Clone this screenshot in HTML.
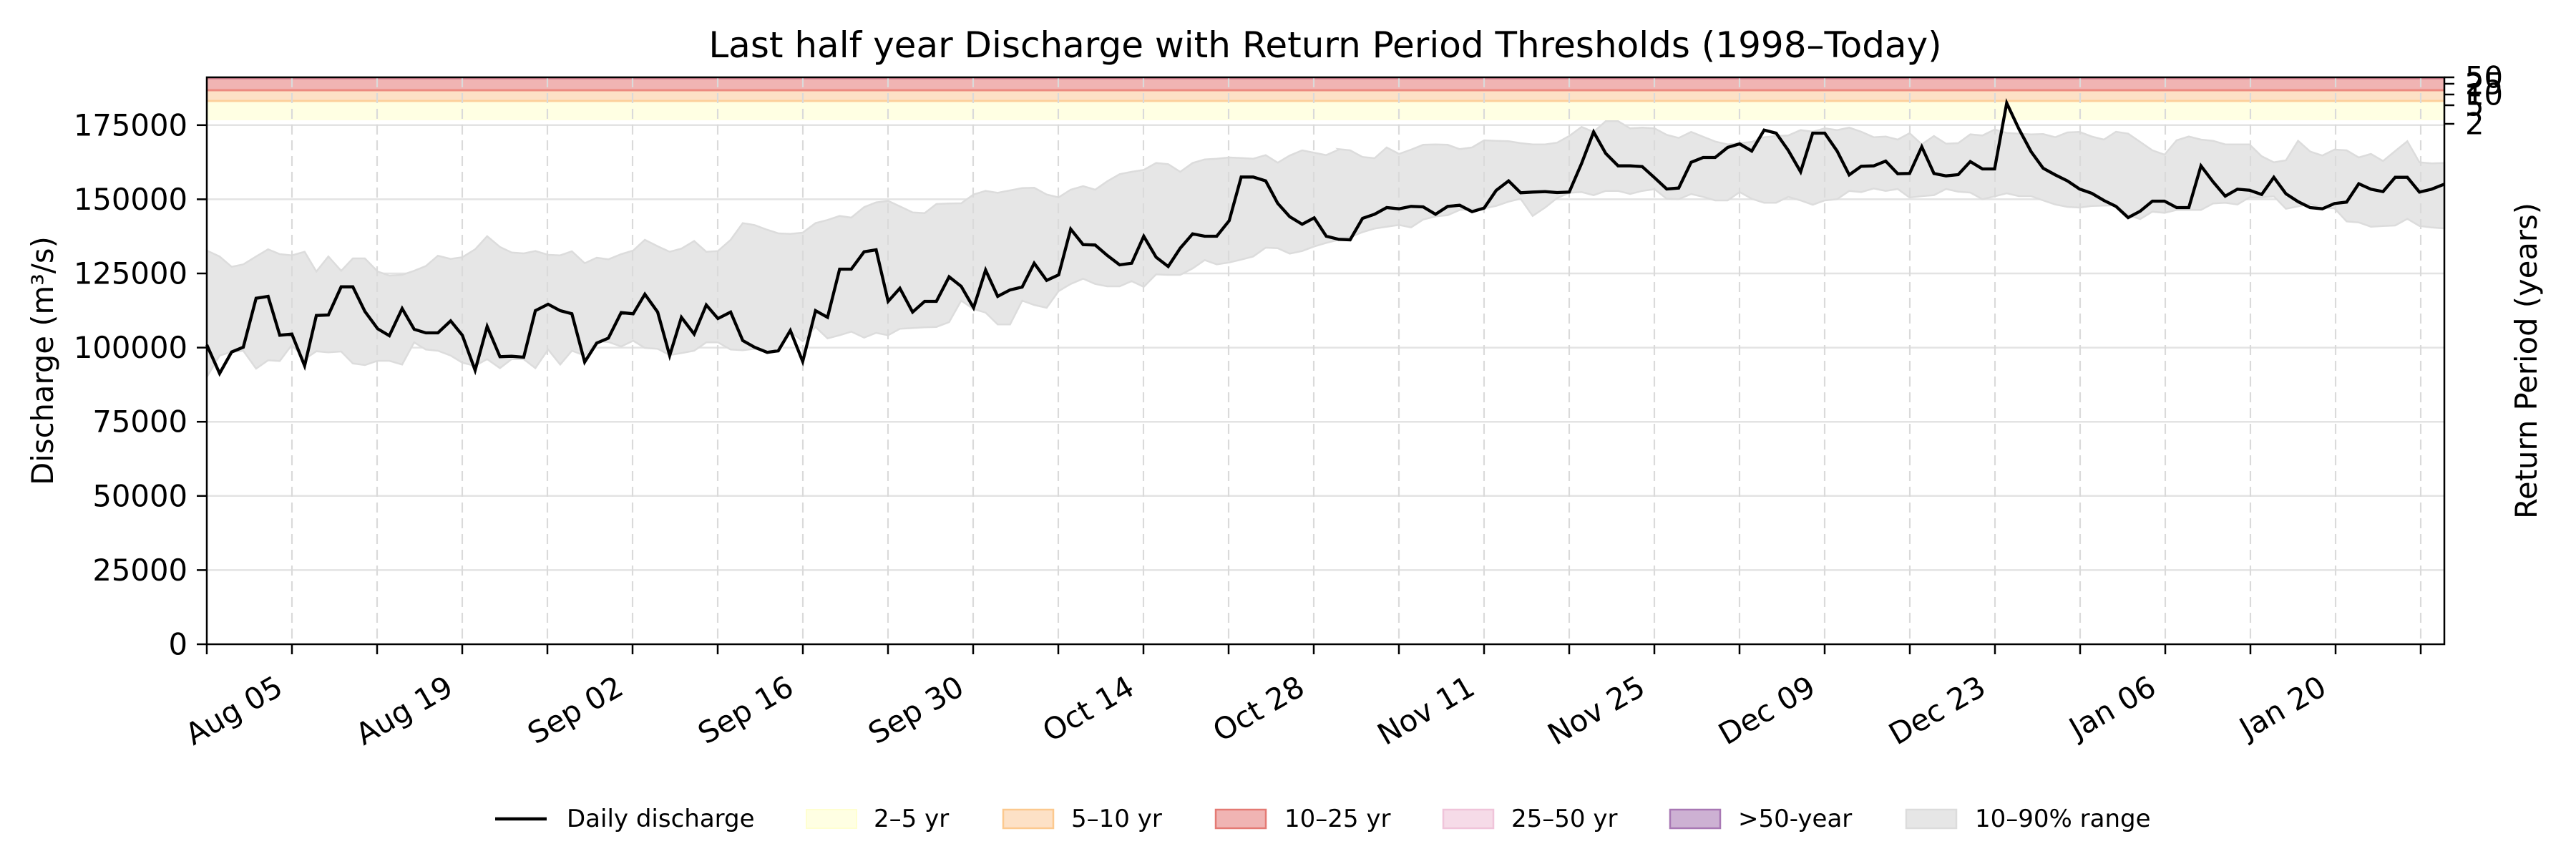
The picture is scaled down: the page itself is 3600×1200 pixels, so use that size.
<!DOCTYPE html>
<html><head><meta charset="utf-8">
<style>
html,body{margin:0;padding:0;background:#fff;}
svg{display:block;font-family:"DejaVu Sans","Liberation Sans",sans-serif;}
</style></head>
<body>
<svg id="s" width="3600" height="1200" viewBox="0 0 3600 1200" xmlns="http://www.w3.org/2000/svg">
<rect width="3600" height="1200" fill="#fff"/>
<g id="grid"></g>
<rect x="289" y="141" width="3127" height="27" fill="#ffffe3"/>
<rect x="289" y="126" width="3127" height="15" fill="#fde1c6"/>
<line x1="289" y1="141" x2="3416" y2="141" stroke="#fcd09c" stroke-width="3"/>
<rect x="289" y="111" width="3127" height="15" fill="#f0b4b3"/>
<line x1="289" y1="126" x2="3416" y2="126" stroke="#ec8a80" stroke-width="3"/>
<rect x="289" y="108" width="3127" height="3" fill="#e28a9a"/>
<path id="band" fill="#e6e6e6" stroke="#dcdcdc" stroke-width="2.5"/>
<g id="vgrid"></g>
<path id="line" fill="none" stroke="#000" stroke-width="4.3" stroke-linejoin="miter"/>
<rect x="289" y="108" width="3127" height="792" fill="none" stroke="#000" stroke-width="2.5"/>
<g id="ticks" font-size="41.7"></g>
<text x="1852" y="80" font-size="50" text-anchor="middle">Last half year Discharge with Return Period Thresholds (1998–Today)</text>
<text transform="translate(74,504) rotate(-90)" font-size="41.7" text-anchor="middle">Discharge (m³/s)</text>
<text transform="translate(3545,504) rotate(-90)" font-size="41.7" text-anchor="middle">Return Period (years)</text>
<g stroke="#000" stroke-width="2.5">
<line x1="3416" y1="108" x2="3430" y2="108"/>
<line x1="3416" y1="117" x2="3430" y2="117"/>
<line x1="3416" y1="132" x2="3430" y2="132"/>
<line x1="3416" y1="147" x2="3430" y2="147"/>
<line x1="3416" y1="173" x2="3430" y2="173"/>
</g>
<g font-size="41.7" dominant-baseline="central">
<text x="3445" y="108">50</text>
<text x="3445" y="117">25</text>
<text x="3445" y="132">10</text>
<text x="3445" y="147">5</text>
<text x="3445" y="173">2</text>
</g>
<g font-size="34" dominant-baseline="central">
<line x1="692" y1="1144" x2="764" y2="1144" stroke="#000" stroke-width="4.5"/>
<text x="792" y="1144">Daily discharge</text>
<rect x="1127" y="1131" width="70" height="26" fill="#ffffe3" stroke="#ffffd0" stroke-width="2"/>
<text x="1221" y="1144">2–5 yr</text>
<rect x="1402" y="1131" width="70" height="26" fill="#fde1c6" stroke="#fcc98f" stroke-width="2.5"/>
<text x="1497" y="1144">5–10 yr</text>
<rect x="1699" y="1131" width="70" height="26" fill="#f0b4b3" stroke="#e47a74" stroke-width="2.5"/>
<text x="1795" y="1144">10–25 yr</text>
<rect x="2017" y="1131" width="70" height="26" fill="#f6dbe8" stroke="#f0c4da" stroke-width="2.5"/>
<text x="2112" y="1144">25–50 yr</text>
<rect x="2334" y="1131" width="70" height="26" fill="#cdb1d3" stroke="#a878b4" stroke-width="2.5"/>
<text x="2429" y="1144">&gt;50-year</text>
<rect x="2664" y="1131" width="70" height="26" fill="#e6e6e6" stroke="#dcdcdc" stroke-width="2.5"/>
<text x="2760" y="1144">10–90% range</text>
</g>
</svg>
<script>
(function(){
var NS="http://www.w3.org/2000/svg";
function el(t,a,p){var e=document.createElementNS(NS,t);for(var k in a)e.setAttribute(k,a[k]);(p||document.getElementById("s")).appendChild(e);return e;}
var segs=[
{X0:289,sx:800/1568,
L:[[5,1055],[35,1175],[68,1085],[100,1065],[135,860],[168,852],[200,1015],[233,1010],[268,1143],[300,932],[333,930],[368,812],[400,812],[433,915],[468,988],[500,1017],[535,903],[568,990],[600,1005],[633,1005],[668,955],[700,1015],[735,1162],[768,978],[803,1105],[835,1103],[868,1107],[900,912],[935,885],[968,912],[1000,925],[1035,1127],[1068,1048],[1100,1027],[1135,920],[1168,925],[1200,843],[1235,918],[1268,1100],[1300,940],[1335,1010],[1368,888],[1400,945],[1435,918],[1468,1037],[1500,1065],[1535,1087]],
U:[[0,660],[35,685],[68,728],[100,718],[135,685],[168,655],[200,675],[233,680],[268,665],[300,748],[333,685],[368,745],[400,693],[433,693],[468,748],[500,765],[535,762],[568,745],[600,725],[633,682],[668,695],[700,688],[735,655],[768,600],[803,645],[835,668],[868,672],[900,662],[935,678],[968,680],[1000,663],[1035,713],[1068,690],[1100,697],[1135,675],[1168,660],[1200,615],[1235,642],[1268,665],[1300,652],[1335,620],[1368,665],[1400,662],[1435,615],[1468,545],[1500,553],[1535,573]],
D:[[0,1190],[35,1100],[68,1085],[100,1080],[135,1155],[168,1120],[200,1123],[233,1055],[268,1115],[300,1082],[333,1087],[368,1083],[400,1133],[433,1140],[468,1122],[500,1122],[535,1138],[568,1045],[600,1075],[633,1080],[668,1100],[700,1130],[735,1143],[768,1115],[803,1153],[835,1115],[868,1115],[900,1153],[935,1075],[968,1138],[1000,1080],[1035,1100],[1068,1040],[1100,1043],[1135,1062],[1168,1038],[1200,1068],[1235,1072],[1268,1098],[1300,1090],[1335,1080],[1368,1045],[1400,1045],[1435,1075],[1468,1078],[1500,1072],[1535,1082]]},
{X0:1080,sx:800/1568,
L:[[15,1080],[48,995],[82,1125],[117,912],[150,940],[183,738],[215,738],[250,665],[283,657],[316,873],[348,818],[383,918],[416,873],[448,873],[483,770],[516,810],[550,900],[583,742],[616,852],[650,825],[683,813],[716,713],[750,785],[783,762],[816,570],[850,635],[883,637],[916,680],[950,720],[983,713],[1016,600],[1050,688],[1083,727],[1116,650],[1150,590],[1183,600],[1216,600],[1250,535],[1283,352],[1316,352],[1350,368],[1383,462],[1416,518],[1450,550],[1483,523],[1516,600],[1550,613]],
U:[[15,588],[48,590],[82,585],[117,545],[150,532],[183,515],[215,522],[250,478],[283,458],[316,452],[348,475],[383,500],[416,503],[448,465],[483,463],[516,462],[550,425],[583,410],[616,418],[650,408],[683,398],[716,397],[750,425],[783,437],[816,405],[850,390],[883,405],[916,370],[950,340],[983,330],[1016,322],[1050,293],[1083,298],[1116,330],[1150,293],[1183,278],[1216,275],[1250,270],[1283,272],[1316,275],[1350,260],[1383,292],[1416,262],[1450,240],[1483,250],[1516,260],[1550,237]],
D:[[15,1085],[48,1000],[82,1040],[117,980],[150,1028],[183,1015],[215,1000],[250,1025],[283,1005],[316,1015],[348,988],[383,985],[416,982],[448,980],[483,960],[516,870],[550,905],[583,920],[616,970],[650,970],[683,870],[716,888],[750,900],[783,830],[816,800],[850,778],[883,800],[916,810],[950,810],[983,788],[1016,812],[1050,760],[1083,762],[1116,762],[1150,735],[1183,700],[1216,718],[1250,710],[1283,698],[1316,685],[1350,648],[1383,650],[1416,673],[1450,662],[1483,643],[1516,628],[1550,615]]},
{X0:1870,sx:800/1568,
L:[[0,613],[33,615],[67,525],[100,508],[133,480],[167,485],[200,475],[233,477],[267,508],[300,475],[333,470],[367,497],[400,482],[433,408],[467,368],[500,418],[533,415],[567,413],[600,417],[633,415],[667,295],[700,163],[733,253],[767,305],[800,305],[833,308],[867,355],[900,402],[933,398],[967,290],[1000,270],[1033,270],[1067,228],[1100,213],[1133,243],[1167,155],[1200,168],[1233,240],[1267,330],[1300,168],[1333,168],[1367,243],[1400,343],[1433,307],[1467,305],[1500,285],[1533,338]],
U:[[0,235],[33,240],[67,268],[100,273],[133,228],[167,255],[200,237],[233,217],[267,215],[300,217],[333,235],[367,228],[400,198],[433,200],[467,202],[500,210],[533,215],[567,215],[600,208],[633,180],[667,142],[700,163],[733,118],[767,118],[800,148],[833,145],[867,148],[900,175],[933,188],[967,163],[1000,183],[1033,203],[1067,215],[1100,210],[1133,205],[1167,185],[1200,180],[1233,178],[1267,155],[1300,162],[1333,148],[1367,155],[1400,145],[1433,162],[1467,185],[1500,182],[1533,195]],
D:[[0,612],[33,603],[67,583],[100,568],[133,560],[167,553],[200,563],[233,530],[267,517],[300,512],[333,490],[367,487],[400,483],[433,473],[467,455],[500,443],[533,515],[567,480],[600,440],[633,418],[667,415],[700,428],[733,410],[767,410],[800,423],[833,410],[867,403],[900,443],[933,445],[967,423],[1000,435],[1033,450],[1067,450],[1100,415],[1133,443],[1167,460],[1200,460],[1233,435],[1267,450],[1300,468],[1333,450],[1367,445],[1400,410],[1433,415],[1467,400],[1500,410],[1533,402]]},
{X0:2660,sx:760/1568,
L:[[18,337],[53,225],[88,337],[123,347],[158,342],[193,287],[228,318],[263,318],[298,42],[333,150],[368,245],[403,315],[438,343],[473,368],[508,402],[543,420],[578,450],[613,475],[648,522],[683,495],[718,453],[753,453],[788,480],[823,480],[858,305],[893,372],[928,432],[963,403],[998,407],[1033,425],[1068,353],[1103,422],[1138,455],[1173,480],[1208,485],[1243,463],[1278,457],[1313,380],[1348,403],[1383,413],[1418,353],[1453,353],[1488,415],[1523,403],[1558,382]],
U:[[18,168],[53,215],[88,180],[123,212],[158,210],[193,173],[228,178],[263,153],[298,167],[333,170],[368,173],[403,172],[438,185],[473,165],[508,163],[543,182],[578,195],[613,162],[648,170],[683,205],[718,240],[753,258],[788,198],[823,182],[858,195],[893,200],[928,215],[963,215],[998,215],[1033,265],[1068,290],[1103,282],[1138,200],[1173,245],[1208,262],[1243,237],[1278,240],[1313,270],[1348,255],[1383,285],[1418,243],[1453,202],[1488,290],[1523,295],[1558,293]],
D:[[18,438],[53,432],[88,428],[123,402],[158,413],[193,417],[228,445],[263,433],[298,420],[333,432],[368,432],[403,450],[438,467],[473,477],[508,480],[543,473],[578,472],[613,470],[648,512],[683,528],[718,497],[753,502],[788,490],[823,490],[858,490],[893,463],[928,460],[963,467],[998,437],[1033,437],[1068,433],[1103,485],[1138,475],[1173,465],[1208,480],[1243,483],[1278,538],[1313,542],[1348,560],[1383,557],[1418,555],[1453,527],[1488,557],[1523,563],[1558,567]]}
];
function conv(key){var out=[];segs.forEach(function(s){s[key].forEach(function(p){var x=s.X0+p[0]*s.sx;if(x<289)x=289;if(x>3416)x=3416;out.push([x,130+p[1]/3]);});});return out;}
var L=conv("L"),U=conv("U"),D=conv("D");
L[0][0]=289;U[0][0]=289;D[0][0]=289;
L[L.length-1][0]=3416;U[U.length-1][0]=3416;D[D.length-1][0]=3416;
function pts(a){return a.map(function(p){return p[0].toFixed(1)+","+p[1].toFixed(1);}).join(" L");}
document.getElementById("line").setAttribute("d","M"+pts(L));
document.getElementById("band").setAttribute("d","M"+pts(U)+" L"+pts(D.slice().reverse())+" Z");
var grid=document.getElementById("grid"),vg=document.getElementById("vgrid"),tk=document.getElementById("ticks");
for(var i=0;i<=7;i++){var y=900-i*103.6;
 if(i>0)el("line",{x1:289,y1:y,x2:3416,y2:y,stroke:"#e3e3e3","stroke-width":2.5},grid);
 el("line",{x1:275,y1:y,x2:289,y2:y,stroke:"#000","stroke-width":2.5},tk);
 var t=el("text",{x:262,y:y,"text-anchor":"end","dominant-baseline":"central"},tk);t.textContent=String(i*25000);}
var labels=["Aug 05","Aug 19","Sep 02","Sep 16","Sep 30","Oct 14","Oct 28","Nov 11","Nov 25","Dec 09","Dec 23","Jan 06","Jan 20"];
for(var w=0;w<=26;w++){var x=289+w*7*17;if(x>3416)break;
 if(w>0)el("line",{x1:x,y1:108,x2:x,y2:900,stroke:"#dadada","stroke-width":2.2,"stroke-dasharray":"14,8"},vg);
 el("line",{x1:x,y1:900,x2:x,y2:914,stroke:"#000","stroke-width":2.5},tk);
 if(w%2==1){var lb=labels[(w-1)/2];if(lb){var tx=x-10,ty=968;var t2=el("text",{x:tx,y:ty,"text-anchor":"end",transform:"rotate(-30 "+tx+" "+ty+")"},tk);t2.textContent=lb;}}
}
})();
</script>
</body></html>
